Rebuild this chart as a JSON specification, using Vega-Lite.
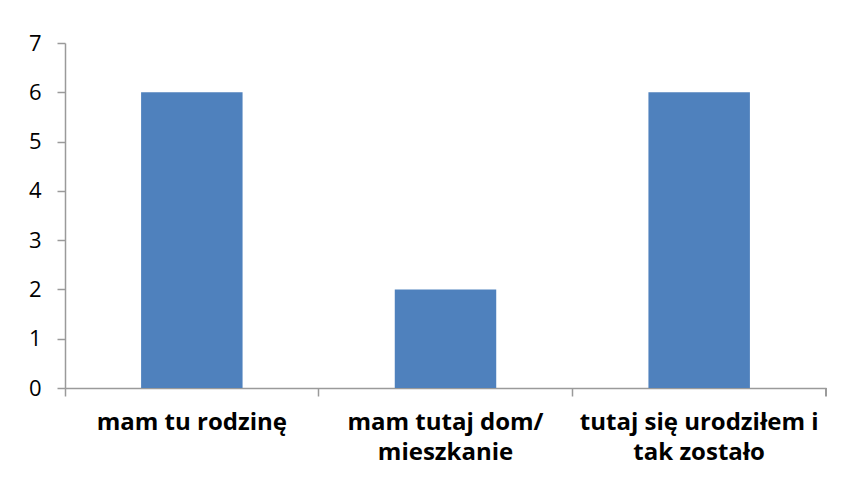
{
  "$schema": "https://vega.github.io/schema/vega-lite/v6.json",
  "autosize": {"type": "none"},
  "padding": {"left": 65, "top": 43, "right": 17, "bottom": 99},
  "width": 761,
  "height": 345,
  "background": "white",
  "config": {"view": {"stroke": null}, "font": "Open Sans"},
  "data": {"values": [
    {"kategoria": "mam tu rodzinę", "liczba": 6},
    {"kategoria": "mam tutaj dom/ mieszkanie", "liczba": 2},
    {"kategoria": "tutaj się urodziłem i tak zostało", "liczba": 6}
  ]},
  "layer": [
    {
      "mark": {"type": "bar", "color": "#4F81BD", "width": {"band": 0.4}},
      "encoding": {
        "x": {
          "field": "kategoria", "type": "nominal", "sort": null,
          "scale": {"paddingInner": 0, "paddingOuter": 0},
          "axis": {
            "title": null, "labelAngle": 0, "bandPosition": 0, "labelLimit": 0,
            "domainColor": "#9a9a9a", "domainWidth": 1.5,
            "tickColor": "#9a9a9a", "tickSize": 8, "tickWidth": 1.5,
            "labelFont": "Open Sans", "labelFontSize": 24, "labelFontWeight": "bold", "labelColor": "#000000",
            "labelPadding": 14, "labelLineHeight": 30, "labelBaseline": "top",
            "labelExpr": "datum.label == 'mam tutaj dom/ mieszkanie' ? ['mam tutaj dom/', 'mieszkanie'] : datum.label == 'tutaj się urodziłem i tak zostało' ? ['tutaj się urodziłem i', 'tak zostało'] : datum.label"
          }
        },
        "y": {
          "field": "liczba", "type": "quantitative",
          "scale": {"domain": [0, 7], "nice": false},
          "axis": {
            "title": null, "values": [0, 1, 2, 3, 4, 5, 6, 7], "grid": false,
            "domainColor": "#9a9a9a", "domainWidth": 1.5,
            "tickColor": "#9a9a9a", "tickSize": 8, "tickWidth": 1.5,
            "labelFont": "Open Sans", "labelFontSize": 22, "labelColor": "#000000", "labelPadding": 16
          }
        }
      }
    },
    {
      "mark": {"type": "rule", "color": "#9a9a9a", "strokeWidth": 1.5},
      "encoding": {
        "x": {"datum": "tutaj się urodziłem i tak zostało", "type": "nominal", "bandPosition": 1},
        "y": {"datum": 0, "type": "quantitative"},
        "y2": {"datum": -0.165}
      }
    }
  ]
}
